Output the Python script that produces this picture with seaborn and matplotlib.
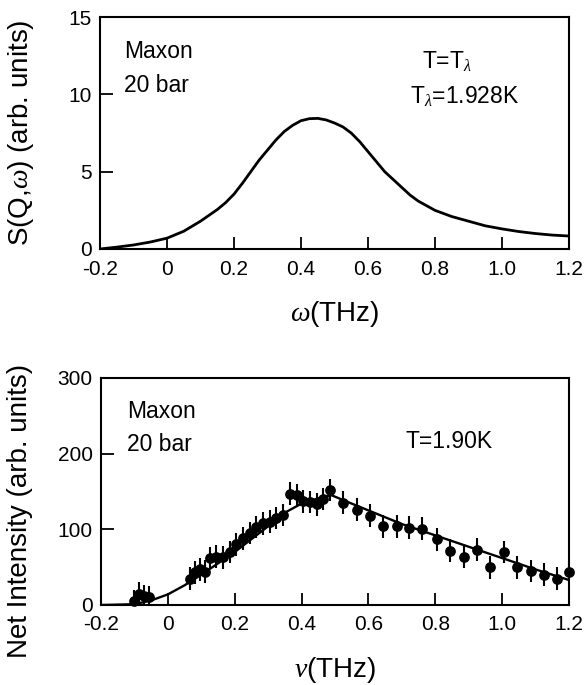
import numpy as np
import pandas as pd
import matplotlib
matplotlib.use("Agg")
import matplotlib.pyplot as plt
import seaborn as sns

# ---- data: top panel, S(Q,w) curve ----
omega = [-0.2, -0.15, -0.1, -0.05, 0.0, 0.05, 0.1, 0.15, 0.175, 0.2, 0.225,
         0.25, 0.275, 0.3, 0.325, 0.35, 0.375, 0.4, 0.425, 0.45, 0.475, 0.5,
         0.525, 0.55, 0.575, 0.6, 0.625, 0.65, 0.675, 0.7, 0.725, 0.75, 0.775,
         0.8, 0.85, 0.9, 0.95, 1.0, 1.05, 1.1, 1.15, 1.2]
s_qw = [0.0, 0.12, 0.26, 0.45, 0.7, 1.15, 1.8, 2.55, 3.0, 3.55, 4.25,
        5.0, 5.75, 6.4, 7.05, 7.6, 8.0, 8.3, 8.43, 8.45, 8.35, 8.15,
        7.9, 7.5, 6.95, 6.3, 5.65, 5.0, 4.5, 4.0, 3.5, 3.1, 2.8,
        2.5, 2.1, 1.8, 1.5, 1.3, 1.13, 1.0, 0.9, 0.84]

# ---- data: bottom panel, measured net intensity ----
nu = [-0.10, -0.085, -0.07, -0.055, 0.065, 0.08, 0.095, 0.11, 0.125, 0.145,
      0.165, 0.185, 0.205, 0.225, 0.245, 0.265, 0.285, 0.305, 0.325, 0.345,
      0.365, 0.385, 0.405, 0.425, 0.445, 0.465, 0.485, 0.525, 0.565, 0.605,
      0.645, 0.685, 0.72, 0.76, 0.805, 0.845, 0.885, 0.925, 0.965, 1.005,
      1.045, 1.085, 1.125, 1.165, 1.2]
intensity = [5, 15, 12, 10, 35, 43, 47, 44, 62, 64,
             63, 70, 80, 88, 95, 103, 108, 110, 115, 119,
             147, 145, 137, 136, 133, 140, 152, 135, 126, 118,
             104, 104, 102, 101, 87, 72, 64, 73, 50, 70,
             50, 45, 40, 35, 43]
err = [15] * len(nu)

# ---- data: bottom panel, fit line ----
fit_nu = [-0.2, -0.1, -0.05, 0.0, 0.05, 0.1, 0.15, 0.2, 0.25, 0.3, 0.35,
          0.4, 0.45, 0.49, 0.55, 0.6, 0.7, 0.8, 0.9, 1.0, 1.1, 1.2]
fit_i = [0, 1, 6, 14, 26, 40, 55, 70, 87, 104, 122,
         134, 141, 145, 134, 125, 107, 92, 77, 62, 47, 33]

x_ticks = [-0.2, 0, 0.2, 0.4, 0.6, 0.8, 1.0, 1.2]
x_ticklabels = ["-0.2", "0", "0.2", "0.4", "0.6", "0.8", "1.0", "1.2"]
top_yticks = [0, 5, 10, 15]
bot_yticks = [0, 100, 200, 300]

sns.set_style("ticks")
plt.rcParams["font.family"] = ["Liberation Sans", "DejaVu Sans"]
plt.rcParams["mathtext.fontset"] = "custom"
plt.rcParams["mathtext.rm"] = "Liberation Sans"
plt.rcParams["mathtext.it"] = "Liberation Serif:italic"
for key in ("text.color", "axes.labelcolor", "xtick.color", "ytick.color",
            "axes.edgecolor"):
    plt.rcParams[key] = "black"

LABEL_FS = 20
TICK_FS = 15
ANN_FS = 16.5

fig = plt.figure(figsize=(5.85, 6.85), dpi=100)
ax1 = fig.add_axes([0.171, 0.6365, 0.8016, 0.3385])
ax2 = fig.add_axes([0.1726, 0.1168, 0.8000, 0.3314])

top_df = pd.DataFrame({"omega": omega, "S": s_qw})
sns.lineplot(data=top_df, x="omega", y="S", ax=ax1, color="black", lw=2.0)

fit_df = pd.DataFrame({"nu": fit_nu, "I": fit_i})
sns.lineplot(data=fit_df, x="nu", y="I", ax=ax2, color="black", lw=1.7)
ax2.errorbar(nu, intensity, yerr=err, fmt="none", ecolor="black", elinewidth=1.5, capsize=0)
pts_df = pd.DataFrame({"nu": nu, "I": intensity})
sns.scatterplot(data=pts_df, x="nu", y="I", ax=ax2, color="black", s=60,
                edgecolor="black", linewidth=0, zorder=5, clip_on=False)

for ax in (ax1, ax2):
    ax.set_xlim(-0.2, 1.2)
    ax.set_xticks(x_ticks)
    ax.set_xticklabels(x_ticklabels)
    ax.tick_params(direction="in", length=9, width=1.3, labelsize=TICK_FS,
                   top=False, right=False, colors="black")
    for sp in ax.spines.values():
        sp.set_linewidth(1.5)
        sp.set_color("black")
        sp.set_visible(True)

ax1.set_ylim(0, 15)
ax1.set_yticks(top_yticks)
ax1.tick_params(axis="x", pad=8)
ax1.tick_params(axis="y", pad=6)
ax1.set_xlabel(r"$\omega$(THz)", fontsize=LABEL_FS)
ax1.set_ylabel(r"S(Q,$\omega$) (arb. units)", fontsize=LABEL_FS)
ax1.xaxis.set_label_coords(0.5, -0.215)
ax1.yaxis.set_label_coords(-0.136, 0.5)

ax2.set_ylim(0, 300)
ax2.set_yticks(bot_yticks)
ax2.tick_params(axis="x", pad=7)
ax2.tick_params(axis="y", pad=6)
ax2.set_xlabel(r"$\nu$(THz)", fontsize=LABEL_FS)
ax2.set_ylabel("Net Intensity (arb. units)", fontsize=LABEL_FS)
ax2.xaxis.set_label_coords(0.5, -0.22)
ax2.yaxis.set_label_coords(-0.145, 0.414)

ax1.text(0.051, 0.85, "Maxon", transform=ax1.transAxes, fontsize=ANN_FS, va="center")
ax1.text(0.051, 0.707, "20 bar", transform=ax1.transAxes, fontsize=ANN_FS, va="center")
ax1.text(0.686, 0.807, r"T=T$_{\lambda}$", transform=ax1.transAxes, fontsize=ANN_FS, va="center")
ax1.text(0.661, 0.656, r"T$_{\lambda}$=1.928K", transform=ax1.transAxes, fontsize=ANN_FS, va="center")

ax2.text(0.055, 0.852, "Maxon", transform=ax2.transAxes, fontsize=ANN_FS, va="center")
ax2.text(0.055, 0.705, "20 bar", transform=ax2.transAxes, fontsize=ANN_FS, va="center")
ax2.text(0.65, 0.719, "T=1.90K", transform=ax2.transAxes, fontsize=ANN_FS, va="center")

fig.savefig("out.png", dpi=100)
